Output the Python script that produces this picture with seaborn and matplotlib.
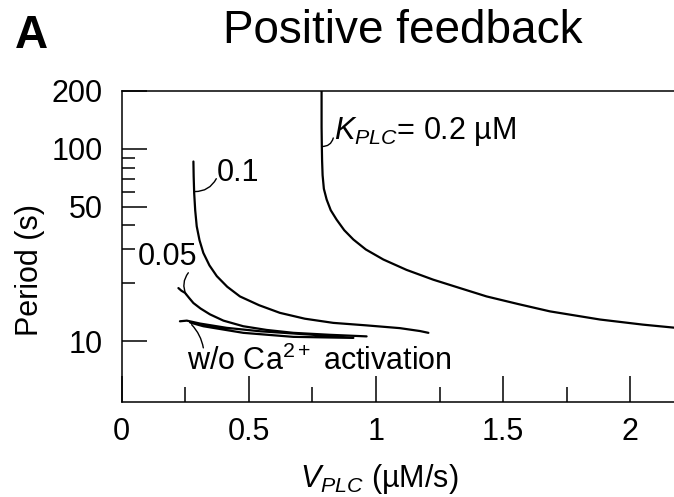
import matplotlib
matplotlib.use("Agg")
import matplotlib.pyplot as plt
from matplotlib.ticker import FixedLocator, FixedFormatter, NullFormatter
import pandas as pd
import seaborn as sns

# Oscillation period versus PLC activity for several Ca2+ affinities of PLC
k02_v = [0.786, 0.786, 0.787, 0.788, 0.790, 0.795, 0.806, 0.822, 0.845, 0.875,
         0.911, 0.96, 1.029, 1.12, 1.225, 1.33, 1.435, 1.56, 1.684, 1.881, 2.05, 2.25]
k02_period = [210, 130, 103, 87, 73, 62, 54.5, 48, 42.9, 37.8,
              33.8, 30.0, 26.6, 23.5, 20.9, 18.9, 17.1, 15.6, 14.3, 12.97, 12.2, 11.5]

k01_v = [0.282, 0.283, 0.285, 0.289, 0.295, 0.306, 0.321, 0.345, 0.374, 0.415,
         0.465, 0.54, 0.622, 0.72, 0.832, 0.96, 1.094, 1.173, 1.206]
k01_period = [86, 72, 59, 48, 39.6, 33.5, 28.8, 24.8, 21.8, 19.2,
              17.1, 15.4, 14.05, 13.1, 12.46, 12.1, 11.7, 11.3, 11.06]

k005_v = [0.223, 0.235, 0.249, 0.265, 0.282, 0.31, 0.347, 0.40, 0.478, 0.57,
          0.675, 0.82, 0.963]
k005_period = [18.9, 18.3, 17.85, 16.8, 15.8, 14.8, 13.8, 12.8, 11.97, 11.45,
               11.06, 10.8, 10.6]

noca_v = [0.229, 0.256, 0.308, 0.413, 0.544, 0.740, 0.911,
          0.675, 0.478, 0.321, 0.27]
noca_period = [12.7, 12.8, 12.36, 11.74, 11.27, 10.83, 10.41,
               10.54, 11.06, 11.97, 12.5]

x_ticks = [0, 0.5, 1, 1.5, 2]
x_tick_labels = ["0", "0.5", "1", "1.5", "2"]
x_minor = [0.25, 0.75, 1.25, 1.75]
y_ticks = [10, 50, 100, 200]
y_tick_labels = ["10", "50", "100", "200"]
y_minor = [20, 30, 40, 60, 70, 80, 90]

curves = {
    "0.2": (k02_v, k02_period),
    "0.1": (k01_v, k01_period),
    "0.05": (k005_v, k005_period),
    "none": (noca_v, noca_period),
}

sns.set_theme(style="white")
plt.rcParams["font.family"] = ["Liberation Sans", "DejaVu Sans"]
plt.rcParams["mathtext.fontset"] = "custom"
plt.rcParams["mathtext.rm"] = "Liberation Sans"
plt.rcParams["mathtext.it"] = "Liberation Sans:italic"
plt.rcParams["mathtext.bf"] = "Liberation Sans:bold"
plt.rcParams["text.color"] = "black"
plt.rcParams["axes.labelcolor"] = "black"
plt.rcParams["xtick.color"] = "black"
plt.rcParams["ytick.color"] = "black"

W, H = 674, 497
fig = plt.figure(figsize=(W / 100, H / 100), dpi=100)
ax = fig.add_axes([121.7 / W, 1 - 401.7 / H, (676 - 121.7) / W, (401.7 - 91) / H])

for name, (v, p) in curves.items():
    df = pd.DataFrame({"v": v, "period": p})
    sns.lineplot(data=df, x="v", y="period", sort=False, estimator=None,
                 color="black", lw=1.6, ax=ax)

ax.set_yscale("log")
ax.set_xlim(0, (676 - 121.7) / 254.3)
ax.set_ylim(4.85, 200)

ax.xaxis.set_major_locator(FixedLocator(x_ticks))
ax.xaxis.set_major_formatter(FixedFormatter(x_tick_labels))
ax.xaxis.set_minor_locator(FixedLocator(x_minor))
ax.xaxis.set_minor_formatter(NullFormatter())
ax.yaxis.set_major_locator(FixedLocator(y_ticks))
ax.yaxis.set_major_formatter(FixedFormatter(y_tick_labels))
ax.yaxis.set_minor_locator(FixedLocator(y_minor))
ax.yaxis.set_minor_formatter(NullFormatter())

ax.tick_params(axis="both", which="both", direction="in", color="black",
               width=1.1, labelsize=22, labelcolor="black",
               bottom=True, left=True, top=False, right=False)
ax.tick_params(axis="x", which="major", length=19, pad=11)
ax.tick_params(axis="x", which="minor", length=11)
ax.tick_params(axis="y", which="major", length=18, pad=13.5)
ax.tick_params(axis="y", which="minor", length=9.5)

for side in ["left", "bottom", "top"]:
    ax.spines[side].set_visible(True)
    ax.spines[side].set_color("black")
    ax.spines[side].set_linewidth(1.1)
ax.spines["right"].set_visible(False)
ax.set_xlabel("")
ax.set_ylabel("")

# curve labels with short leader lines
lead = dict(arrowstyle="-", color="black", lw=1.0, shrinkA=0, shrinkB=0)
ax.annotate("", xy=(0.786, 103), xytext=(0.832, 114),
            arrowprops=dict(lead, connectionstyle="arc3,rad=-0.4"))
ax.text(0.835, 112, r"$K_{PLC}$= 0.2 µM", fontsize=22, va="baseline", ha="left")

ax.annotate("", xy=(0.287, 60), xytext=(0.372, 70),
            arrowprops=dict(lead, connectionstyle="arc3,rad=-0.3"))
ax.text(0.374, 67.9, "0.1", fontsize=22, va="baseline", ha="left")

ax.annotate("", xy=(0.253, 17.5), xytext=(0.262, 22.7),
            arrowprops=dict(lead, connectionstyle="arc3,rad=0.3"))
ax.text(0.065, 25.0, "0.05", fontsize=22, va="baseline", ha="left")

ax.annotate("", xy=(0.275, 12.2), xytext=(0.321, 9.24),
            arrowprops=dict(lead, connectionstyle="arc3,rad=0.15"))
ax.text(0.258, 7.13, r"w/o Ca$^{2+}$ activation", fontsize=22,
        va="baseline", ha="left")

fig.text(403 / W, 1 - 43 / H, "Positive feedback", fontsize=33,
         ha="center", va="baseline")
fig.text(15 / W, 1 - 48 / H, "A", fontsize=33, fontweight="bold",
         ha="left", va="baseline")
fig.text(30 / W, 1 - 270 / H, "Period (s)", fontsize=22, rotation=90,
         ha="center", va="center")
fig.text(300 / W, 1 - 487 / H, r"$V_{PLC}$ (µM/s)", fontsize=22,
         ha="left", va="baseline")

fig.savefig("out.png", dpi=100, facecolor="white")
